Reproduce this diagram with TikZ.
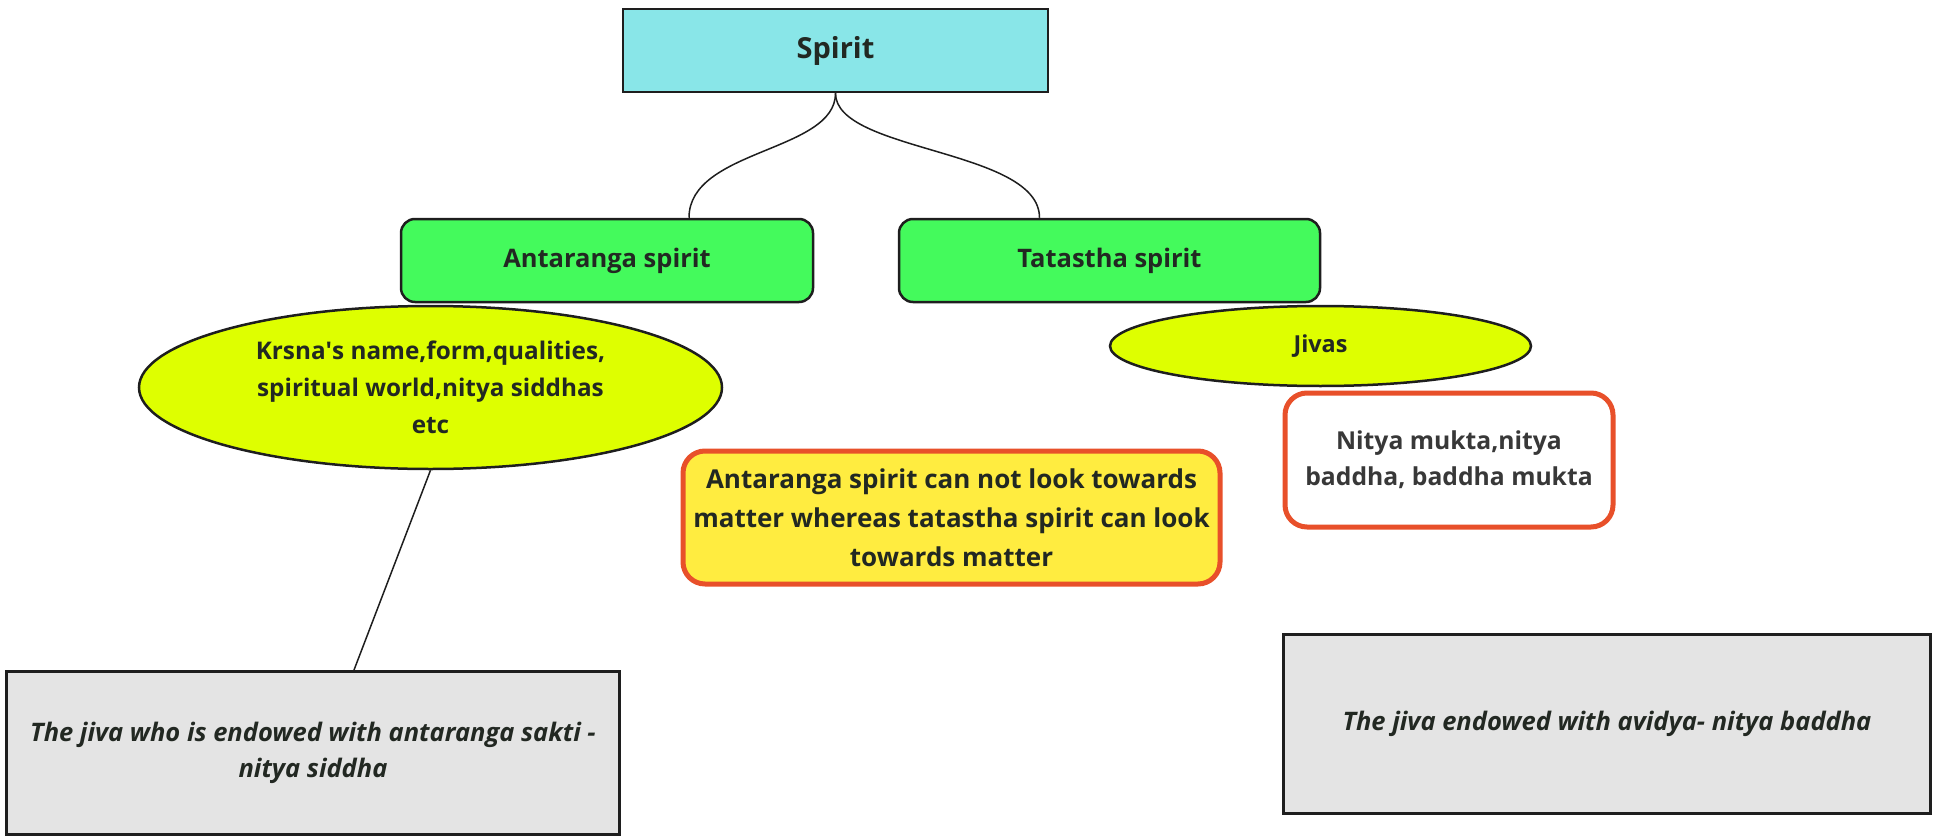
\documentclass[tikz,border=0pt]{standalone}
\usepackage{fontspec}
\setmainfont{Open Sans}
\usetikzlibrary{shapes.geometric,calc}
\definecolor{cyanf}{RGB}{137,230,232}
\definecolor{greenf}{RGB}{68,250,92}
\definecolor{limef}{RGB}{222,255,0}
\definecolor{yellowf}{RGB}{255,236,64}
\definecolor{orangeb}{RGB}{232,80,42}
\definecolor{grayf}{RGB}{228,228,228}
\definecolor{linec}{RGB}{30,30,30}
\definecolor{txtc}{RGB}{34,40,34}
\newcommand{\fsz}[2]{\fontsize{#1}{#2}\selectfont}
\begin{document}
\begin{tikzpicture}[x=1pt,y=-1pt,
  base/.style={inner sep=0pt, align=center, text=txtc, font=\bfseries\fsz{23.4}{37}},
  spiritbox/.style={base, draw=linec, line width=2.5pt, fill=cyanf, minimum width=425pt, minimum height=83pt, font=\bfseries\fsz{29}{37}},
  greenbox/.style={base, draw=linec, line width=2.5pt, fill=greenf, rounded corners=14pt, minimum height=83pt, font=\bfseries\fsz{25.5}{37}},
  limeell/.style={base, ellipse, draw=linec, line width=2.5pt, fill=limef},
  notebox/.style={base, draw=orangeb, line width=5pt, rounded corners=22pt},
  graybox/.style={base, draw=linec, line width=3pt, fill=grayf, font=\bfseries\itshape\fsz{25.5}{36}},
  conn/.style={draw=linec, line width=1.5pt}
]
\useasboundingbox (0,0) rectangle (1934,837);

\node[spiritbox] (sp) at (835.5,50.5) {Spirit};
\node[greenbox, minimum width=412pt] (ant) at (607,260.5) {Antaranga spirit};
\node[greenbox, minimum width=421pt] (tat) at (1109.5,260.5) {Tatastha spirit};
\node[limeell, minimum width=583pt, minimum height=163pt, font=\bfseries\fsz{24.3}{37}] (kr) at (430.5,387.5)
  {Krsna\textquotesingle s name,form,qualities,\\spiritual world,nitya siddhas\\etc};
\node[limeell, minimum width=421pt, minimum height=80pt] (jv) at (1320.5,346) {Jivas};
\node[notebox, fill=yellowf, minimum width=537pt, minimum height=133pt, font=\bfseries\fsz{26}{39}] (note) at (951.5,517.5)
  {Antaranga spirit can not look towards\\matter whereas tatastha spirit can look\\towards matter};
\node[notebox, fill=white, minimum width=328pt, minimum height=134pt, text=black!78, font=\bfseries\fsz{24.7}{36}] (ny) at (1449,460)
  {Nitya mukta,nitya\\baddha, baddha mukta};
\node[graybox, minimum width=613pt, minimum height=163pt] (lg) at (313,753)
  {The jiva who is endowed with antaranga sakti -\\nitya siddha};
\node[graybox, minimum width=647pt, minimum height=179pt] (rg) at (1607,723.5)
  {The jiva endowed with avidya- nitya baddha};

\coordinate (antTop) at ($(ant.north)+(82,0)$);
\coordinate (tatTop) at ($(tat.north)+(-70,0)$);
\coordinate (lgTop) at ($(lg.north)+(41,0)$);

\draw[conn] (sp.south) .. controls +(0,59) and +(0,-69) .. (antTop);
\draw[conn] (sp.south) .. controls +(0,59) and +(0,-69) .. (tatTop);
\draw[conn] (kr.south) -- (lgTop);
\end{tikzpicture}
\end{document}
